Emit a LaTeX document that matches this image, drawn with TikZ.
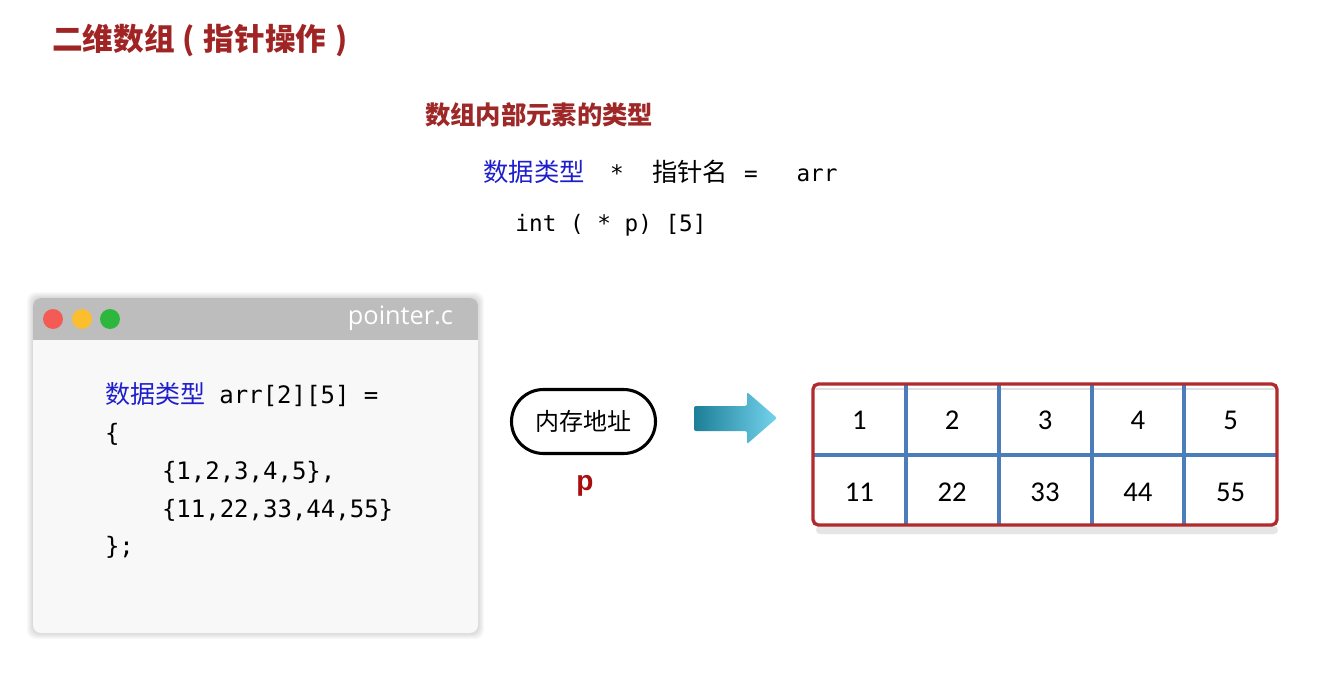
\documentclass[tikz,border=0pt]{standalone}
\usepackage{fontspec}
\setmainfont{Noto Sans CJK SC}
\newfontfamily\codefont{DejaVu Sans Mono}
\newfontfamily\numfont{Carlito}
\newfontfamily\pfont{Liberation Sans}
\newfontfamily\fnfont{Open Sans}
\definecolor{titlered}{HTML}{A02424}
\definecolor{subred}{HTML}{9E2828}
\definecolor{pred}{HTML}{A80E0E}
\definecolor{kwblue}{HTML}{1E1ECC}
\definecolor{gridred}{HTML}{B02A2E}
\definecolor{gridblue}{HTML}{4A7DBA}
\definecolor{bargray}{HTML}{BDBDBD}
\definecolor{bodygray}{HTML}{F8F8F8}
\definecolor{dotred}{HTML}{F45B55}
\definecolor{dotyellow}{HTML}{FBBE2F}
\definecolor{dotgreen}{HTML}{2DB83D}
\definecolor{arrdark}{HTML}{1D7E98}
\definecolor{arrlight}{HTML}{74D4EC}
\begin{document}
\begin{tikzpicture}[x=0.75pt,y=-0.75pt,
  txt/.style={inner sep=0pt, outer sep=0pt},
  titletext/.style={txt, font=\fontsize{23}{28}\selectfont\bfseries, text=titlered},
  subtext/.style={txt, font=\fontsize{19}{23}\selectfont\bfseries, text=subred},
  cjktext/.style={txt, font=\fontsize{19}{23}\selectfont},
  codetext/.style={txt, font=\fontsize{17}{21}\codefont},
  codeline/.style={txt, anchor=base west, font=\fontsize{18}{22}\codefont},
  dot/.style={circle, inner sep=0pt, minimum size=15pt},
  cell/.style={txt, font=\fontsize{21.5}{25}\numfont},
  gridline/.style={gridblue, line width=2.3pt},
]
\useasboundingbox (0,0) rectangle (1330,684);
\fill[white] (0,0) rectangle (1330,684);

% title
\node[titletext, anchor=base west] (title) at (52,51) {二维数组\hspace{0.25em}(\hspace{0.3em}指针操作\hspace{0.3em})};

% top explanation
\node[subtext, anchor=base] (sub) at (539,125) {数组内部元素的类型};
\node[cjktext, anchor=base, text=kwblue] (dtype) at (534,182) {数据类型};
\node[codetext, anchor=base] (star) at (617,182) {*};
\node[cjktext, anchor=base] (pname) at (690,182) {指针名};
\node[codetext, anchor=base] (eq) at (751,182) {=};
\node[codetext, anchor=base] (arrname) at (817,182) {arr};
\node[codetext, anchor=base] (decl) at (611,232) {int ( * p) [5]};

% code window
\foreach \i in {1,...,6}{
  \fill[black, opacity=0.025, rounded corners=6pt] (33-\i,298-\i) rectangle (478+\i,633+\i);
}
\fill[bodygray, rounded corners=6pt] (33,298) rectangle (478,633);
\begin{scope}
  \clip[rounded corners=6pt] (33,298) rectangle (478,633);
  \fill[bargray] (33,298) rectangle (478,340);
\end{scope}
\node[dot, fill=dotred] (d1) at (53,319) {};
\node[dot, fill=dotyellow] (d2) at (82,319) {};
\node[dot, fill=dotgreen] (d3) at (110,319) {};
\node[txt, anchor=east, text=white, font=\fontsize{19}{23}\fnfont] (fname) at (453,318) {pointer.c};

\node[codeline] (c1) at (105,403) {{\fontsize{18.75}{22}\rmfamily\color{kwblue}数据类型} arr[2][5] =};
\node[codeline] (c2) at (105,441) {\{};
\node[codeline] (c3) at (162,479) {\{1,2,3,4,5\},};
\node[codeline] (c4) at (162,517) {\{11,22,33,44,55\}};
\node[codeline] (c5) at (105,554) {\};};

% pointer pill
\node[draw=black, line width=2.3pt, rounded corners=24pt, minimum width=108pt, minimum height=48pt,
      inner sep=0pt, font=\fontsize{18}{22}\selectfont] (mem) at (583.5,421.5) {内存地址};
\node[txt, anchor=base, text=pred, font=\fontsize{21}{25}\pfont\bfseries] (p) at (585,490) {p};

% arrow
\shade[left color=arrdark, right color=arrlight, rounded corners=1.5pt]
  (694,406) -- (747,406) -- (747,392) -- (777,418) -- (747,444) -- (747,431) -- (694,431) -- cycle;

% grid
\fill[black!10, rounded corners=3pt] (816,526) rectangle (1278,534);
\fill[white] (813,384) rectangle (1277,525);
\draw[black!12, line width=2pt] (816,389) -- (1274,389);
\draw[gridline] (813,455) -- (1277,455);
\foreach \x in {906,999,1092,1184}{
  \draw[gridline] (\x,384) -- (\x,525);
}
\draw[gridred, line width=2.5pt, rounded corners=4pt] (813,384) rectangle (1277,525);

\node[cell] (a1) at (859.4,420) {1};
\node[cell] (a2) at (952.2,420) {2};
\node[cell] (a3) at (1045,420) {3};
\node[cell] (a4) at (1137.8,420) {4};
\node[cell] (a5) at (1230.6,420) {5};
\node[cell] (b1) at (859.4,492) {11};
\node[cell] (b2) at (952.2,492) {22};
\node[cell] (b3) at (1045,492) {33};
\node[cell] (b4) at (1137.8,492) {44};
\node[cell] (b5) at (1230.6,492) {55};
\end{tikzpicture}
\end{document}
